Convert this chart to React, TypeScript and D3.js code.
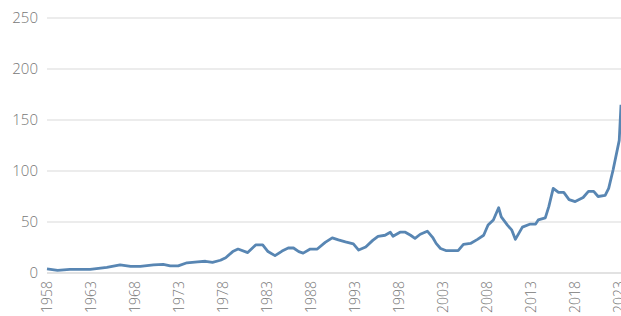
import { scaleLinear, line, curveLinear } from "d3"

// time (decimal year) and index value
const years = [
  1958.0, 1959.2, 1960.6, 1962.9, 1964.8, 1966.3, 1967.5, 1968.6, 1970.1, 1971.2,
  1972.0, 1972.9, 1973.9, 1975.1, 1976.0, 1976.8, 1977.7, 1978.3, 1979.1, 1979.7,
  1980.8, 1981.7, 1982.5, 1983.1, 1983.9, 1984.7, 1985.4, 1986.0, 1986.6, 1987.1,
  1987.9, 1988.7, 1989.6, 1990.4, 1991.1, 1991.9, 1992.8, 1993.4, 1994.2, 1995.0,
  1995.6, 1996.4, 1997.0, 1997.3, 1998.1, 1998.7, 1999.3, 1999.8, 2000.4, 2001.2,
  2001.8, 2002.2, 2002.7, 2003.3, 2004.1, 2004.7, 2005.3, 2006.1, 2006.9, 2007.6,
  2008.1, 2008.7, 2009.3, 2009.6, 2010.3, 2010.8, 2011.2, 2012.0, 2012.9, 2013.5,
  2013.8, 2014.6, 2015.0, 2015.5, 2016.1, 2016.7, 2017.3, 2018.0, 2018.9, 2019.5,
  2020.1, 2020.6, 2021.4, 2021.8, 2022.3, 2023.0, 2023.2,
]
const values = [
  4, 2.5, 3.5, 3.5, 5.5, 8, 6.5, 6.5, 8, 8.5,
  7, 7, 10, 11, 11.5, 10.5, 12.5, 15, 21, 23.5,
  20, 27.5, 27.5, 21, 17, 21.5, 24.5, 24.5, 21, 19.5,
  23.5, 23.5, 30, 34.5, 32.5, 30.5, 28.5, 22.5, 25.5, 32,
  36, 37, 40, 36, 40, 40, 37, 34, 38, 41,
  35, 29, 24, 22, 22, 22, 28, 29, 33, 37,
  47, 52, 64, 55, 47, 42, 33, 45, 48, 48,
  52, 54, 65, 83, 79, 79, 72, 70, 74, 80,
  80, 75, 76, 83, 101, 130, 165,
]
const yTicks = [0, 50, 100, 150, 200, 250]
const xTicks = [1958, 1963, 1968, 1973, 1978, 1983, 1988, 1993, 1998, 2003, 2008, 2013, 2018, 2023]

const width = 621
const height = 316

export default function App() {
  const x = scaleLinear().domain([1958, 2023.2]).range([47, 621])
  const y = scaleLinear().domain([0, 250]).range([273, 18])

  const pts = years.map((yr, i) => [yr, values[i]] as [number, number])
  const path = line<[number, number]>()
    .x(d => x(d[0]))
    .y(d => y(d[1]))
    .curve(curveLinear)(pts)

  const font = "'Open Sans', 'DejaVu Sans', sans-serif"

  return (
    <svg
      width={width}
      height={height}
      style={{ position: "absolute", left: 0, top: 0, background: "#fff" }}
    >
      {yTicks.map(t => (
        <g key={t}>
          {t > 0 && (
            <line x1={47} x2={621} y1={y(t)} y2={y(t)} stroke="#d9d9d9" strokeWidth={1} />
          )}
          <text
            x={38}
            y={y(t)}
            dy="0.35em"
            textAnchor="end"
            fontFamily={font}
            fontWeight={300}
            fontSize={15}
            fill="#777"
          >
            {t}
          </text>
        </g>
      ))}
      <line x1={47} x2={621} y1={y(0)} y2={y(0)} stroke="#d9d9d9" strokeWidth={1.5} />
      {xTicks.map(t => (
        <text
          key={t}
          transform={`translate(${x(t)}, 281) rotate(-90)`}
          dy="0.35em"
          textAnchor="end"
          fontFamily={font}
          fontWeight={300}
          fontSize={14}
          fill="#777"
        >
          {t}
        </text>
      ))}
      <path d={path ?? ""} fill="none" stroke="#5886b3" strokeWidth={2.8} strokeLinejoin="round" />
    </svg>
  )
}
